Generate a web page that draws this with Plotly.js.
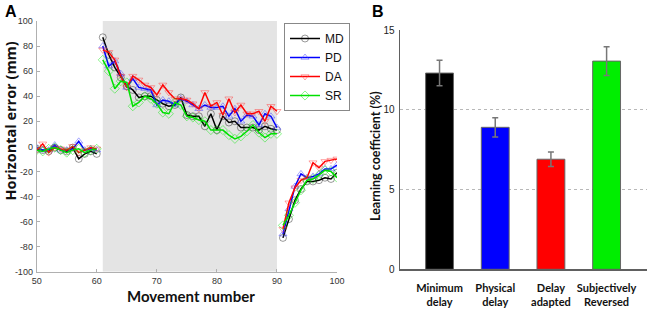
<!DOCTYPE html>
<html><head><meta charset="utf-8">
<script src="https://cdn.plot.ly/plotly-3.0.1.min.js"></script>
<style>html,body{margin:0;padding:0;background:#fff}#g{width:650px;height:310px}</style>
</head><body><div id="g"></div>
<script>
// ---- Panel A data ----
const movesBase  = [50,51,52,53,54,55,56,57,58,59,60];
const movesAdapt = [61,62,63,64,65,66,67,68,69,70,71,72,73,74,75,76,77,78,79,80,81,82,83,84,85,86,87,88,89,90];
const movesWash  = [91,92,93,94,95,96,97,98,99,100];

const mdBase  = [-2,-3,-4,-1,-3,-4,-1,-10,-6,-4,-6];
const mdAdapt = [87,73,63,55,48,45,39,40,40,37,34,32,33,39,25,24,24,16,26,13,24,19,20,15,15,15,13,16,14,13];
const mdWash  = [-73,-58,-43,-34,-28,-28,-27,-25,-26,-21];

const pdBase  = [-1,-3,-3,1,-3,-3,-2,4,-3,-2,-3];
const pdAdapt = [80,64,68,58,47,54,47,46,45,33,37,36,33,38,36,33,30,33,31,31,32,24,30,20,25,24,17,26,24,15];
const pdWash  = [-70,-50,-32,-22,-25,-24,-22,-18,-18,-15];

const daBase  = [-3,2,-5,-1,-2,-3,0,-5,-3,-1,-2];
const daAdapt = [77,75,69,56,47,56,53,49,47,41,49,43,38,38,37,34,30,43,32,35,25,38,27,33,26,26,28,20,32,28];
const daWash  = [-66,-45,-33,-27,-25,-13,-17,-12,-11,-10];

const srBase  = [-3,-4,-2,-1,-3,-5,-3,-2,-5,-3,-2];
const srAdapt = [69,60,46,52,51,32,35,40,38,34,27,26,35,33,24,23,21,20,13,13,13,9,6,8,12,17,11,7,10,10];
const srWash  = [-63,-55,-45,-35,-27,-26,-23,-19,-20,-25];

const adaptStart = 61, adaptEnd = 90;

// ---- Panel B data ----
const conditions = ["Minimum<br>delay","Physical<br>delay","Delay<br>adapted","Subjectively<br>Reversed"];
const coeff      = [12.3, 8.9, 6.9, 13.05];
const coeffErr   = [0.8, 0.6, 0.45, 0.9];
const barColors  = ["#000000","#0000ff","#ff0000","#00ee00"];

function join(a,b,c){ return a.concat([null],b,[null],c); }
const xs = join(movesBase, movesAdapt, movesWash);

const series = [
  {name:"MD", y: join(mdBase,mdAdapt,mdWash), line:"#000000", mk:"rgba(0,0,0,0.4)", sym:"circle-open"},
  {name:"PD", y: join(pdBase,pdAdapt,pdWash), line:"#0000ff", mk:"rgba(60,60,255,0.45)", sym:"triangle-up-open"},
  {name:"DA", y: join(daBase,daAdapt,daWash), line:"#ff0000", mk:"rgba(255,60,60,0.45)", sym:"triangle-down-open"},
  {name:"SR", y: join(srBase,srAdapt,srWash), line:"#00e000", mk:"rgba(0,230,0,0.45)", sym:"diamond-open"}
];

const traces = series.map(s => ({
  type:"scatter", mode:"lines+markers", x: xs, y: s.y, name: s.name,
  connectgaps:false, xaxis:"x", yaxis:"y",
  line:{color:s.line, width:1.5},
  marker:{symbol:s.sym, size:7, color:s.mk, line:{width:1, color:s.mk}}
}));

traces.push({
  type:"bar", x:[0,1,2,3], y:coeff, xaxis:"x2", yaxis:"y2", showlegend:false,
  width:0.5,
  marker:{color:barColors, line:{color:"#666666", width:1}},
  error_y:{type:"data", array:coeffErr, visible:true, color:"#777777", thickness:1.5, width:3}
});

const W=650, H=310;
const px = v => v/W, py = v => 1 - v/H;

const yTicks = [-100,-80,-60,-40,-20,0,20,40,60,80,100];
const layout = {
  width:W, height:H, margin:{l:0,r:0,t:0,b:0}, paper_bgcolor:"#fff", plot_bgcolor:"rgba(0,0,0,0)",
  showlegend:true,
  legend:{x:px(284), y:py(23), xanchor:"left", yanchor:"top", bordercolor:"#888", borderwidth:1,
          bgcolor:"#fff", font:{family:"Liberation Sans", size:12, color:"#111"}, itemwidth:30, tracegroupgap:0},
  xaxis:{domain:[px(36.7), px(337)], range:[50,100], tickvals:[50,60,70,80,90,100],
         showline:true, linecolor:"#b0b0b0", linewidth:1, ticks:"inside", ticklen:3, tickcolor:"#b0b0b0",
         showgrid:false, zeroline:false, tickfont:{family:"Liberation Sans", size:9, color:"#333"}},
  yaxis:{domain:[py(271.7), py(21)], range:[-100,100], tickvals:yTicks, ticktext:yTicks.map(String),
         showline:true, linecolor:"#b0b0b0", linewidth:1, ticks:"inside", ticklen:3, tickcolor:"#b0b0b0",
         showgrid:false, zeroline:false, tickfont:{family:"Liberation Sans", size:9, color:"#333"}, ticklabelstandoff:1},
  xaxis2:{domain:[px(400), px(646.7)], range:[-0.71,3.72], tickvals:[0,1,2,3], ticktext:conditions,
          showline:true, linecolor:"#606060", linewidth:1.5, ticks:"", showgrid:false, zeroline:false,
          tickfont:{family:"Lato", size:11, color:"#111", weight:700}, anchor:"y2", ticklabelstandoff:8},
  yaxis2:{domain:[py(269.3), py(30)], range:[0,15], tickvals:[0,5,10,15],
          showline:true, linecolor:"#606060", linewidth:1.5, ticks:"", showgrid:true, gridcolor:"#b8b8b8",
          griddash:"dot", gridwidth:1, zeroline:false, anchor:"x2",
          tickfont:{family:"Liberation Sans", size:10, color:"#222"}, ticklabelstandoff:2},
  shapes:[{type:"rect", xref:"x", yref:"y", x0:adaptStart, x1:adaptEnd, y0:-100, y1:100,
           fillcolor:"#e4e4e4", line:{width:0}, layer:"below"}],
  annotations:[
    {text:"<b>A</b>", xref:"paper", yref:"paper", x:px(3), y:py(11), xanchor:"left", yanchor:"middle", showarrow:false,
     font:{family:"Liberation Sans", size:16, color:"#000"}},
    {text:"<b>B</b>", xref:"paper", yref:"paper", x:px(370), y:py(12), xanchor:"left", yanchor:"middle", showarrow:false,
     font:{family:"Liberation Sans", size:16, color:"#000"}},
    {text:"<b>Movement number</b>", xref:"paper", yref:"paper", x:px(191), y:py(296), xanchor:"center", yanchor:"middle",
     showarrow:false, font:{family:"Lato", size:15, color:"#111"}},
    {text:"<b>Horizontal error (mm)</b>", xref:"paper", yref:"paper", x:px(10), y:py(121.5), xanchor:"center", yanchor:"middle",
     textangle:-90, showarrow:false, font:{family:"Open Sans", size:14.5, color:"#111"}},
    {text:"<b>Learning coefficient (%)</b>", xref:"paper", yref:"paper", x:px(376), y:py(156), xanchor:"center", yanchor:"middle",
     textangle:-90, showarrow:false, font:{family:"Lato", size:12.5, color:"#111"}}
  ]
};

Plotly.newPlot("g", traces, layout, {displayModeBar:false, staticPlot:true});
</script></body></html>
